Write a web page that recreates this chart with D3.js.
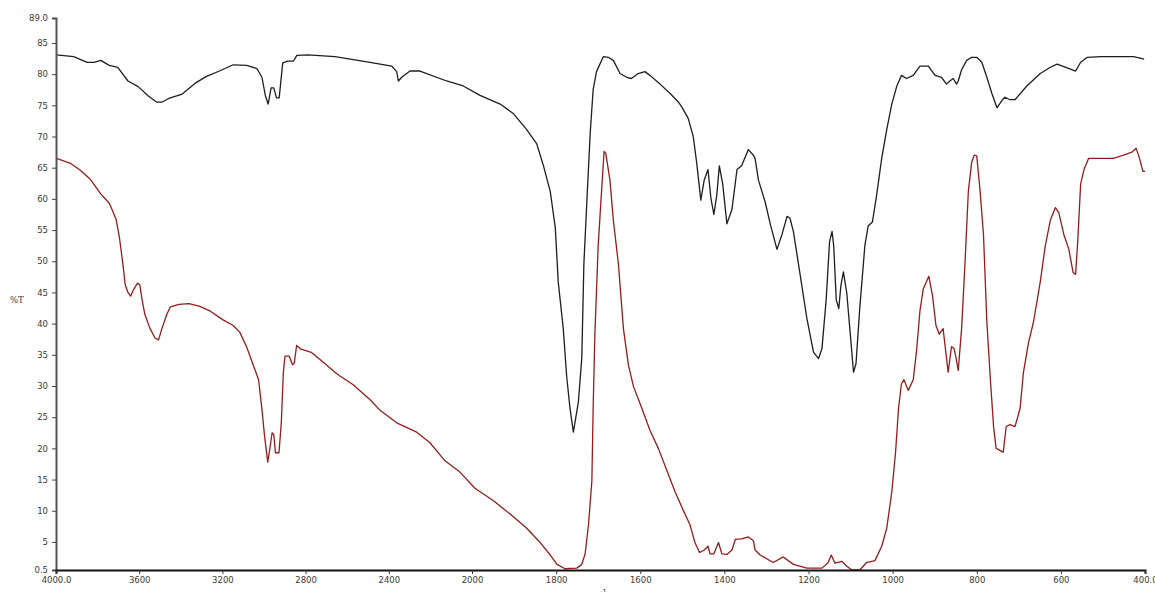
<!DOCTYPE html>
<html lang="en">
<head>
<meta charset="UTF-8">
<title>FTIR %T</title>
<style>
  body { margin: 0; background: #fff; }
  svg { display: block; }
  .tick text { font-family: "DejaVu Sans", Verdana, sans-serif; font-size: 8.5px; fill: #3a3a3a; }
</style>
</head>
<body>
<div id="chart"></div>
<script src="https://cdn.jsdelivr.net/npm/d3@7"></script>
<script>
const width = 1155, height = 592;

// black spectrum
const blackWn = [3997,3915,3850,3817,3785,3744,3703,3654,3605,3556,3515,3491,3458,3393,3328,3279,3214,3148,3083,3034,3010,2993,2980,2966,2953,2940,2927,2910,2887,2858,2842,2790,2659,2490,2386,2362,2354,2338,2298,2250,2122,2042,1981,1933,1902,1870,1846,1830,1814,1802,1795,1783,1775,1767,1759,1747,1739,1734,1727,1719,1712,1704,1692,1688,1676,1664,1648,1632,1621,1605,1589,1577,1553,1529,1509,1501,1486,1474,1466,1456,1448,1439,1432,1425,1418,1412,1404,1394,1382,1370,1359,1343,1331,1327,1319,1303,1291,1275,1263,1251,1244,1236,1220,1204,1188,1176,1168,1158,1150,1144,1140,1134,1128,1123,1117,1109,1101,1093,1087,1078,1066,1058,1048,1038,1026,1014,1002,990,979,967,951,935,915,899,884,872,864,856,848,844,836,824,812,800,788,776,764,752,740,733,721,709,681,649,625,609,585,565,553,537,506,427,402];
const blackT = [83.1,82.8,81.9,81.9,82.2,81.4,81.1,78.9,78.0,76.5,75.5,75.5,76.1,76.8,78.6,79.6,80.5,81.5,81.4,80.9,79.5,76.5,75.2,77.8,77.8,76.2,76.2,81.8,82.1,82.1,83.0,83.1,82.8,81.9,81.3,80.4,78.9,79.5,80.5,80.5,78.9,78.1,76.6,75.2,73.7,71.1,68.8,65.3,61.2,55.4,46.7,39.2,31.6,26.4,22.6,27.5,34.5,49.6,59.5,70.5,77.5,80.4,82.2,82.8,82.7,82.2,80.1,79.5,79.3,80.1,80.4,79.8,78.4,76.9,75.5,74.7,72.9,70.0,65.9,59.8,63.0,64.7,60.1,57.5,60.6,65.3,62.4,56.0,58.3,64.7,65.3,67.9,67.0,66.5,63.0,59.5,56.0,51.9,54.3,57.2,56.9,54.8,47.9,40.9,35.4,34.4,36.0,43.8,53.1,54.8,52.4,43.8,42.4,46.1,48.3,44.9,38.6,32.2,33.6,42.6,52.5,55.7,56.3,60.6,66.5,71.1,75.2,78.1,79.8,79.3,79.8,81.3,81.3,79.8,79.5,78.4,78.9,79.3,78.4,78.9,80.7,82.2,82.7,82.7,81.9,79.5,76.9,74.6,75.8,76.3,75.9,75.9,78.1,80.1,81.1,81.6,81.0,80.5,81.9,82.7,82.8,82.8,82.4];

// red spectrum
const redWn = [3997,3931,3883,3834,3785,3744,3728,3711,3695,3679,3667,3654,3641,3630,3608,3597,3586,3573,3548,3524,3507,3491,3467,3450,3409,3361,3312,3263,3197,3148,3116,3083,3051,3026,3010,2998,2982,2972,2961,2953,2945,2928,2917,2907,2899,2879,2863,2855,2843,2822,2773,2708,2659,2635,2571,2490,2442,2362,2266,2202,2130,2058,1993,1949,1910,1870,1838,1814,1798,1779,1751,1739,1731,1723,1715,1712,1708,1700,1692,1686,1682,1672,1664,1652,1640,1628,1616,1596,1577,1557,1537,1517,1498,1482,1470,1459,1448,1439,1434,1425,1414,1406,1394,1382,1374,1359,1343,1331,1327,1315,1284,1260,1236,1204,1168,1153,1146,1137,1121,1109,1097,1078,1062,1042,1026,1014,1002,993,986,979,973,963,951,943,935,927,914,905,897,889,880,872,868,860,854,850,844,836,828,820,812,806,800,792,784,776,767,760,754,737,730,721,709,697,689,677,665,649,637,625,613,605,593,581,571,565,560,553,545,534,518,475,451,431,421,413,405,400];
const redT = [66.5,65.7,64.6,63.1,60.8,59.3,58.1,56.7,53.8,49.7,46.2,45.0,44.4,45.3,46.5,46.2,43.8,41.5,39.2,37.7,37.4,39.2,41.5,42.7,43.1,43.2,42.8,42.1,40.6,39.7,38.6,36.2,33.3,31.0,26.3,22.2,17.8,19.9,22.5,22.2,19.3,19.3,24.0,32.2,34.8,34.8,33.4,33.6,36.5,35.9,35.4,33.6,32.2,31.6,30.2,27.8,26.1,24.1,22.6,20.9,18.0,16.2,13.6,11.6,9.5,7.2,4.9,2.9,1.4,0.7,0.8,1.4,3.1,7.8,14.8,26.4,38.0,52.5,61.2,67.6,67.3,63.0,56.6,49.6,39.2,33.3,29.9,26.4,22.9,20.0,16.5,13.0,10.1,7.8,4.9,3.3,3.7,4.3,3.1,3.1,4.9,3.1,3.0,3.7,5.4,5.5,5.8,5.2,3.7,2.9,1.7,2.6,1.4,0.8,0.8,1.7,2.9,1.6,1.9,1.1,0.5,0.5,1.7,2.0,4.3,7.2,13.0,19.4,26.4,30.4,31.0,29.3,31.0,35.7,42.1,45.6,47.6,44.4,39.7,38.3,39.2,34.5,32.2,36.3,36.0,34.8,32.5,39.2,49.6,61.2,65.9,67.0,66.9,61.2,54.3,40.3,30.4,23.5,20.0,19.4,23.5,23.8,23.5,26.4,32.2,36.9,40.3,46.7,52.5,56.6,58.6,57.8,54.3,51.9,48.2,47.9,53.1,62.4,64.7,66.5,66.5,66.5,67.0,67.5,68.1,66.5,64.4,64.4];

const xTicks = [4000,3600,3200,2800,2400,2000,1800,1600,1400,1200,1000,800,600,400];
const yTicks = [89,85,80,75,70,65,60,55,50,45,40,35,30,25,20,15,10,5,0.5];

const svg = d3.select("#chart")
    .append("svg")
    .attr("width", width)
    .attr("height", height);

// the wavenumber axis is expanded 2x below 2000
const x = d3.scaleLinear()
    .domain([4000, 2000, 400])
    .range([56, 472, 1145]);

const y = d3.scaleLinear()
    .domain([0.5, 89])
    .range([570, 18]);

const line = d3.line()
    .x(d => x(d[0]))
    .y(d => y(d[1]));

svg.append("path")
    .datum(d3.zip(blackWn, blackT))
    .attr("fill", "none")
    .attr("stroke", "#1e1e1e")
    .attr("stroke-width", 1.3)
    .attr("stroke-linejoin", "round")
    .attr("d", line);

svg.append("path")
    .datum(d3.zip(redWn, redT))
    .attr("fill", "none")
    .attr("stroke", "#961c1c")
    .attr("stroke-width", 1.3)
    .attr("stroke-linejoin", "round")
    .attr("d", line);

let yAxis = svg.append("g")
    .attr("transform", "translate(56,0)")
    .call(d3.axisLeft(y)
        .tickValues(yTicks)
        .tickSize(4)
        .tickPadding(4)
        .tickFormat(d => d == 89 ? "89.0" : d == 0.5 ? "0.5" : d));
yAxis.select(".domain").attr("stroke", "#555").attr("stroke-width", 2);
yAxis.selectAll(".tick line").attr("stroke", "#444");

let xAxis = svg.append("g")
    .attr("transform", "translate(0,570)")
    .call(d3.axisBottom(x)
        .tickValues(xTicks)
        .tickSize(4)
        .tickPadding(3)
        .tickFormat(d => d == 4000 ? "4000.0" : d == 400 ? "400.0" : d));
xAxis.select(".domain").attr("stroke", "#111").attr("stroke-width", 2);
xAxis.selectAll(".tick line").attr("stroke", "#333");

svg.append("text")
    .attr("x", 10)
    .attr("y", 303)
    .style("font-family", "DejaVu Serif, serif")
    .style("font-size", "8.5px")
    .style("fill", "#3a3a3a")
    .text("%T");

let unit = svg.append("text")
    .attr("x", 586)
    .attr("y", 598)
    .style("font-family", "DejaVu Sans, sans-serif")
    .style("font-size", "9px")
    .style("fill", "#3a3a3a");
unit.append("tspan").text("cm");
unit.append("tspan").attr("dy", -4).style("font-size", "7px").text("-1");
</script>
</body>
</html>
